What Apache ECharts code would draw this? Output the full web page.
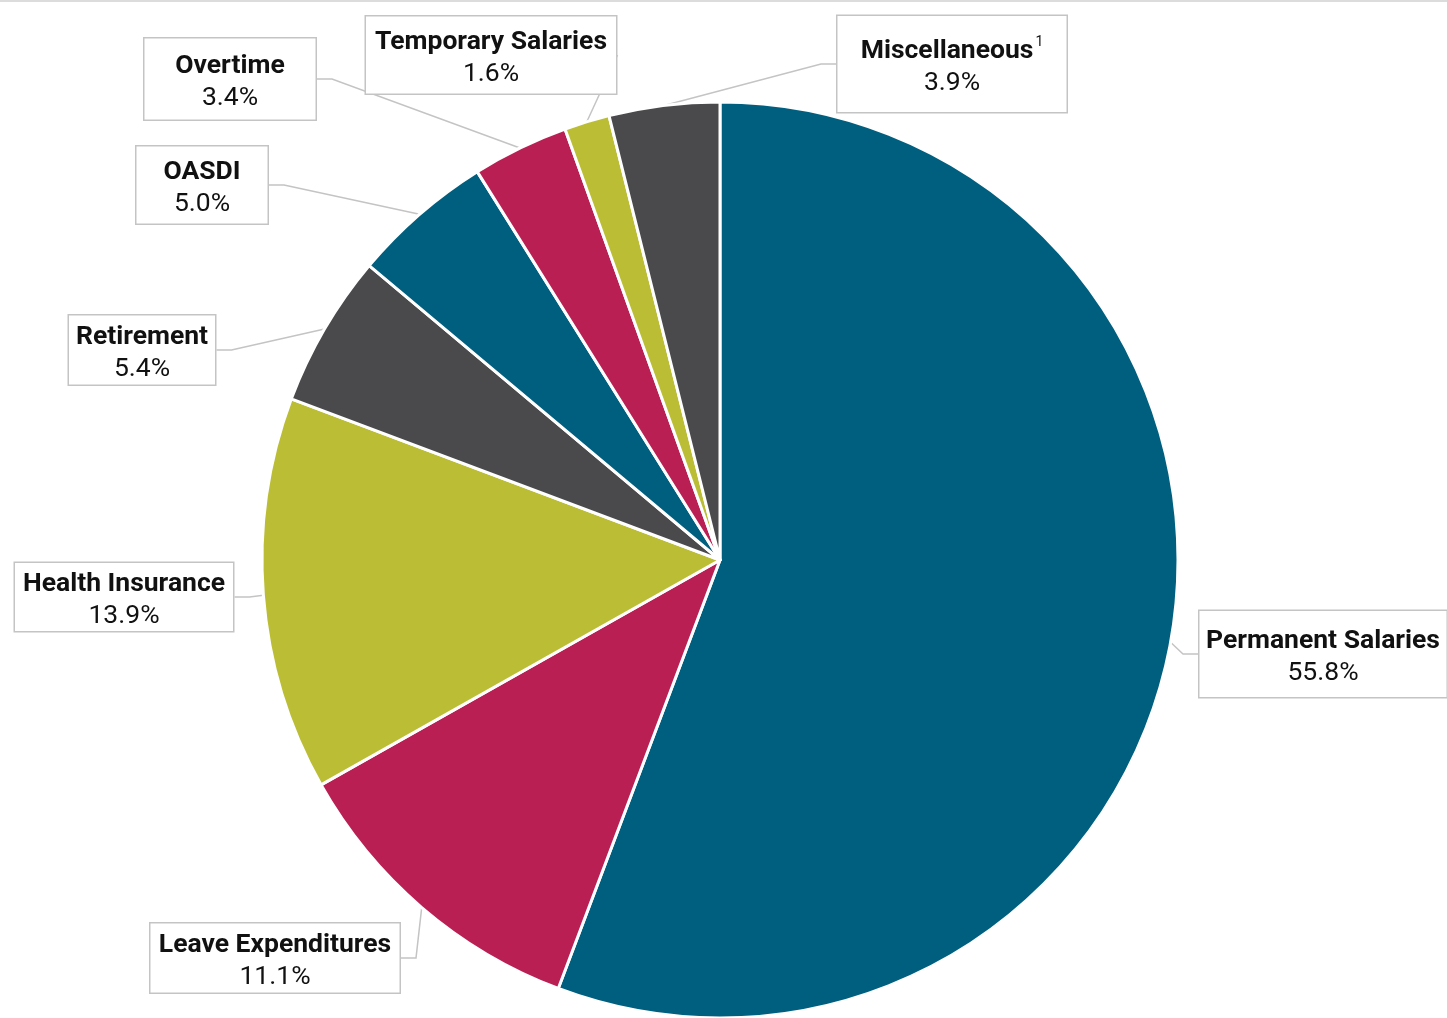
<!DOCTYPE html>
<html><head><meta charset="utf-8">
<script src="https://cdn.jsdelivr.net/npm/echarts@6/dist/echarts.min.js"></script>
<style>html,body{margin:0;padding:0;background:#fff}#c{width:1447px;height:1018px}</style>
</head><body><div id="c"></div>
<script>
const categories = ['Permanent Salaries','Leave Expenditures','Health Insurance','Retirement','OASDI','Overtime','Temporary Salaries','Miscellaneous'];
const values = [55.8, 11.1, 13.9, 5.4, 5.0, 3.4, 1.6, 3.9];
const footnotes = ['', '', '', '', '', '', '', '1'];
const colors = ['#005F7F','#BA1F53','#BBBE35','#4A4A4C','#005F7F','#BA1F53','#BBBE35','#4A4A4C'];
// label box layout: center x, center y, box width, box height
const labelBoxes = [
  [1323, 654, 250, 89],
  [275, 958, 252, 72],
  [124, 597, 221, 71],
  [142, 350, 149, 72],
  [202, 185, 134, 80],
  [230, 79, 174, 84],
  [491, 55, 253, 80],
  [952, 64, 232, 99]
];
const LH = 32;
const chart = echarts.init(document.getElementById('c'), null, {renderer:'canvas'});
const data = categories.map((n,i)=>{
  const pv = (labelBoxes[i][3]-2*LH-3)/2;
  return {
    name:n, value:values[i],
    itemStyle:{color:colors[i]},
    label:{width:labelBoxes[i][2]-3, padding:[pv+3, 0, pv-3, 0]}
  };
});
chart.setOption({
  animation:false,
  graphic:[{type:'line',shape:{x1:0,y1:1,x2:1447,y2:1},style:{stroke:'#d0d0d0',lineWidth:1.5}}],
  series:[{
    type:'pie',
    center:[720,560],
    radius:[0,458],
    startAngle:90,
    clockwise:true,
    data:data,
    itemStyle:{borderColor:'#fff',borderWidth:3},
    label:{
      show:true,
      formatter:p=>{
        const fn = footnotes[p.dataIndex];
        return '{b|'+p.name+'}'+(fn?'{s|'+fn+'}':'')+'\n{v|'+p.value.toFixed(1)+'%}';
      },
      backgroundColor:'#fff',
      borderColor:'#c4c4c4',
      borderWidth:1.5,
      align:'center',
      verticalAlign:'middle',
      lineHeight:LH,
      rich:{
        b:{fontFamily:'Roboto',fontWeight:'bold',fontSize:26.5,color:'#111',lineHeight:LH,align:'center'},
        s:{fontFamily:'Roboto',fontSize:14,color:'#111',lineHeight:LH,verticalAlign:'top',padding:[0,0,12,2]},
        v:{fontFamily:'Roboto',fontSize:26.5,color:'#111',lineHeight:LH,align:'center'}
      }
    },
    labelLine:{show:true,length:15,length2:15,smooth:false,lineStyle:{color:'#c4c4c4',width:1.5}},
    labelLayout:function(params){
      const b = labelBoxes[params.dataIndex];
      return {x:b[0], y:b[1], align:'center', verticalAlign:'middle'};
    }
  }]
});
</script></body></html>
